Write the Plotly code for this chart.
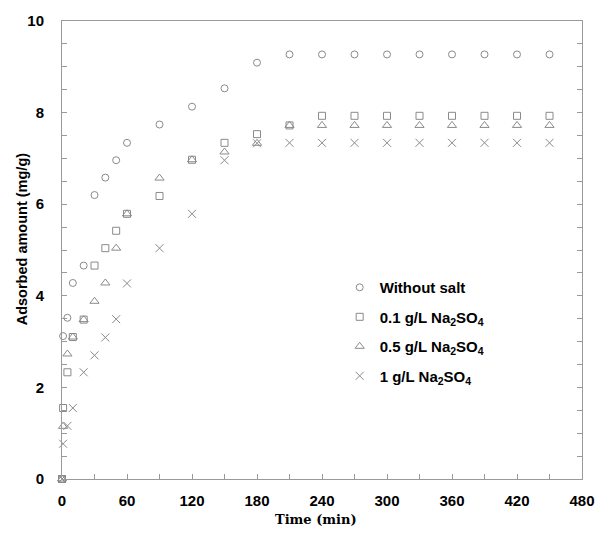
import plotly.graph_objects as go

time_min = [0, 1, 5, 10, 20, 30, 40, 50, 60, 90, 120, 150, 180, 210,
            240, 270, 300, 330, 360, 390, 420, 450]

without_salt = [0, 3.12, 3.52, 4.28, 4.66, 6.20, 6.58, 6.96, 7.34, 7.74, 8.13, 8.53, 9.09, 9.27,
                9.27, 9.27, 9.27, 9.27, 9.27, 9.27, 9.27, 9.27]
na2so4_01 = [0, 1.55, 2.33, 3.10, 3.48, 4.66, 5.04, 5.42, 5.79, 6.18, 6.97, 7.34, 7.53, 7.72,
             7.93, 7.93, 7.93, 7.93, 7.93, 7.93, 7.93, 7.93]
na2so4_05 = [0, 1.15, 2.73, 3.10, 3.48, 3.88, 4.28, 5.04, 5.79, 6.57, 6.97, 7.14, 7.33, 7.72,
             7.72, 7.72, 7.72, 7.72, 7.72, 7.72, 7.72, 7.72]
na2so4_1 = [0, 0.77, 1.16, 1.55, 2.33, 2.70, 3.09, 3.49, 4.27, 5.04, 5.79, 6.96, 7.33, 7.34,
            7.34, 7.34, 7.34, 7.34, 7.34, 7.34, 7.34, 7.34]

series_names = ["Without salt",
                "0.1 g/L Na<sub>2</sub>SO<sub>4</sub>",
                "0.5 g/L Na<sub>2</sub>SO<sub>4</sub>",
                "1 g/L Na<sub>2</sub>SO<sub>4</sub>"]
series_values = [without_salt, na2so4_01, na2so4_05, na2so4_1]
symbols = ["circle-open", "square-open", "triangle-up-open", "x-thin-open"]
sizes = [7, 7, 8, 8]

x_ticks = [0, 60, 120, 180, 240, 300, 360, 420, 480]
y_ticks = [0, 2, 4, 6, 8, 10]

x_title = "Time (min)"
y_title = "Adsorbed amount (mg/g)"

marker_color = "#8a8a8a"
axis_color = "#9a9a9a"
sans = "Liberation Sans, Arial, sans-serif"

fig = go.Figure()
for i, (name, vals, sym, sz) in enumerate(zip(series_names, series_values, symbols, sizes)):
    fig.add_trace(go.Scatter(
        x=time_min, y=vals, mode="markers", name=name, legendgroup=f"g{i}",
        cliponaxis=False,
        marker=dict(symbol=sym, size=sz, color=marker_color,
                    line=dict(color=marker_color, width=1)),
    ))

fig.update_layout(
    width=607, height=551,
    margin=dict(l=62, r=15, t=18, b=72),
    paper_bgcolor="white", plot_bgcolor="white",
    font=dict(family=sans, size=15, color="black", weight="bold"),
    showlegend=True,
    legend=dict(x=0.534, y=0.454, xanchor="left", yanchor="top",
                bgcolor="rgba(0,0,0,0)", borderwidth=0,
                font=dict(family=sans, size=15, color="black", weight="bold"),
                tracegroupgap=7),
    xaxis=dict(
        range=[0, 480], tickmode="array", tickvals=x_ticks,
        ticks="inside", ticklen=5, tickcolor=axis_color, tickwidth=1,
        showline=True, linecolor=axis_color, linewidth=1, mirror=True,
        showgrid=False, zeroline=False,
        minor=dict(dtick=30, tick0=0, ticks="inside", ticklen=5, tickcolor=axis_color, showgrid=False),
        tickfont=dict(family=sans, size=15, color="black", weight="bold"),
        ticklabelstandoff=8,
    ),
    yaxis=dict(
        range=[0, 10], tickmode="array", tickvals=y_ticks,
        ticks="inside", ticklen=5, tickcolor=axis_color, tickwidth=1,
        showline=True, linecolor=axis_color, linewidth=1, mirror="ticks",
        showgrid=False, zeroline=False,
        minor=dict(dtick=0.5, tick0=0, ticks="inside", ticklen=5, tickcolor=axis_color, showgrid=False),
        tickfont=dict(family=sans, size=15, color="black", weight="bold"),
        ticklabelstandoff=14,
    ),
    annotations=[
        dict(text=x_title, xref="paper", yref="paper", x=0.489, y=-0.0889,
             xanchor="center", yanchor="middle", showarrow=False,
             font=dict(family="DejaVu Serif, serif", size=13, color="black", weight="bold")),
        dict(text=y_title, xref="paper", yref="paper", x=-0.0774, y=0.525,
             xanchor="center", yanchor="middle", showarrow=False, textangle=-90,
             font=dict(family=sans, size=14.5, color="black", weight="bold")),
    ],
)

fig.write_html("out.html")
